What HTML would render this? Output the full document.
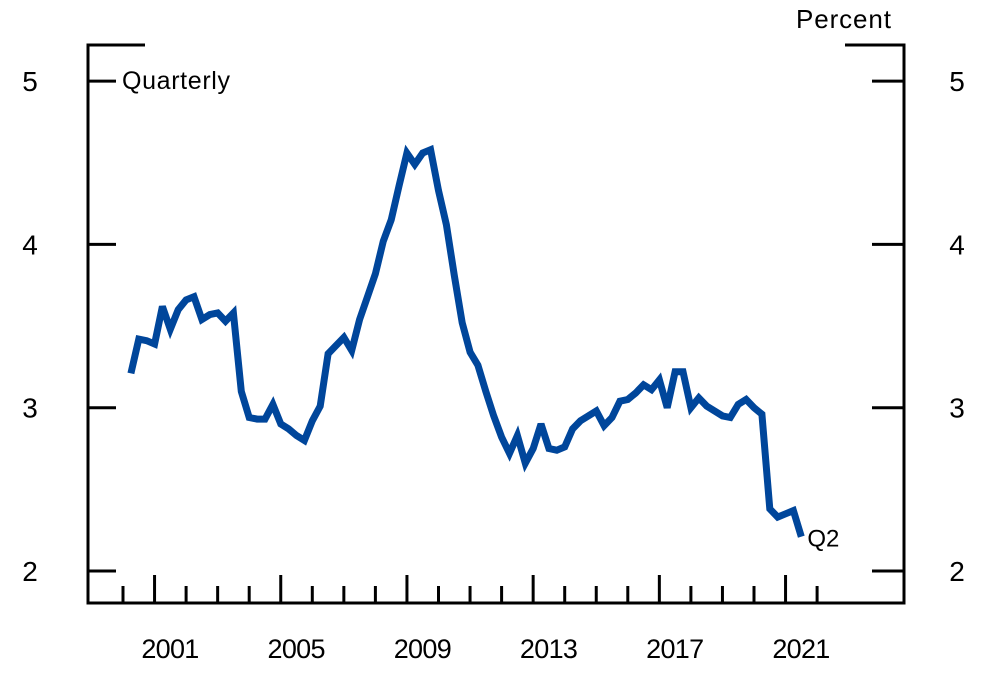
<!DOCTYPE html>
<html><head><meta charset="utf-8"><style>
html,body{margin:0;padding:0;background:#fff;}
svg text{font-family:"Liberation Sans",sans-serif;fill:#000;}
</style></head><body>
<svg id="chart" width="1000" height="676" viewBox="0 0 1000 676" xmlns="http://www.w3.org/2000/svg">
<g id="axes"></g>
<g id="series"></g>
<text x="796" y="28" font-size="26" textLength="95">Percent</text>
<text x="122" y="89" font-size="25" textLength="108">Quarterly</text>
</svg>
<script>
const yTicks = [2, 3, 4, 5];
const xLabels = ["2001", "2005", "2009", "2013", "2017", "2021"];
const xLabelYears = [2001, 2005, 2009, 2013, 2017, 2021];
const startYear = 2000.25;
const values = [3.21,3.42,3.41,3.39,3.62,3.48,3.60,3.66,3.68,3.54,3.57,3.58,3.53,3.58,3.10,2.94,2.93,2.93,3.02,2.90,
2.87,2.83,2.80,2.92,3.01,3.33,3.38,3.43,3.35,3.54,3.68,3.82,4.02,4.15,4.36,4.56,4.49,4.56,4.58,4.33,
4.12,3.81,3.52,3.34,3.26,3.10,2.95,2.82,2.72,2.83,2.66,2.75,2.90,2.75,2.74,2.76,2.87,2.92,2.95,2.98,
2.89,2.94,3.04,3.05,3.09,3.14,3.11,3.17,3.00,3.22,3.22,3.00,3.06,3.01,2.98,2.95,2.94,3.02,3.05,3.00,
2.96,2.38,2.33,2.35,2.37,2.21];
const lastLabel = "Q2";

const NS = "http://www.w3.org/2000/svg";
const L = 88, R = 904, T = 45, B = 603;
function yPix(v){ return 571 - (v - 2) * 163.3; }
function xPix(t){ return 123 + (t - 2000) * 31.55; }
const axes = document.getElementById('axes');
function mk(tag, attrs, parent){ const e = document.createElementNS(NS, tag); for (const k in attrs) e.setAttribute(k, attrs[k]); parent.appendChild(e); return e; }
const frame = mk('path', {d:`M145 ${T} H${L} V${B} H${R} V${T} H845`, fill:'none', stroke:'#000', 'stroke-width':3}, axes);


yTicks.forEach(v => {
  const y = yPix(v);
  const tl = mk('line', {x1:L, x2:116, y1:y, y2:y, stroke:'#000', 'stroke-width':3}, axes);
  
  
  const tr = mk('line', {x1:872, x2:R, y1:y, y2:y, stroke:'#000', 'stroke-width':3}, axes);
  
  
  const a = mk('text', {x:30, y:y+10, 'font-size':28, 'text-anchor':'middle'}, axes);
  a.textContent = v;
  
  
  const b = mk('text', {x:957, y:y+10, 'font-size':28, 'text-anchor':'middle'}, axes);
  b.textContent = v;
  
  
});
for (let yr = 2000; yr <= 2022; yr++) {
  const x = xPix(yr);
  const long = xLabelYears.includes(yr);
  const t = mk('line', {x1:x, x2:x, y1:B, y2: long ? 575 : 586, stroke:'#000', 'stroke-width':3}, axes);
  
  
}
xLabels.forEach((lab, i) => {
  const t = mk('text', {x:xPix(xLabelYears[i] + 0.5), y:658, 'font-size':27, 'text-anchor':'middle', textLength:58}, axes);
  t.textContent = lab;
  
  
});
const series = document.getElementById('series');
const pts = values.map((v, i) => `${xPix(startYear + i * 0.25).toFixed(1)},${yPix(v).toFixed(1)}`).join(' ');
const line = mk('polyline', {points:pts, fill:'none', stroke:'#00469b', 'stroke-width':7, 'stroke-linejoin':'miter', 'stroke-miterlimit':3}, series);


const li = values.length - 1;
const q = mk('text', {x:xPix(startYear + li * 0.25) + 6, y:yPix(values[li]) + 10, 'font-size':24}, series);
q.textContent = lastLabel;


</script>
</body></html>
